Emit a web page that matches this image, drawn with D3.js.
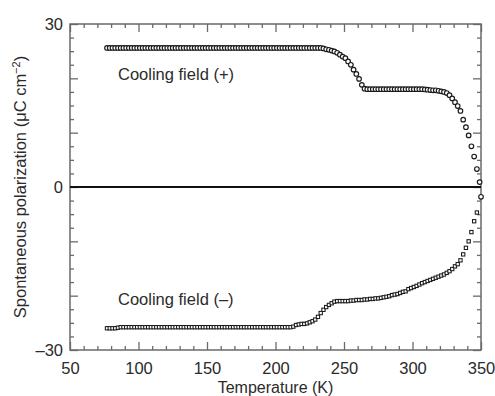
<!DOCTYPE html>
<html><head><meta charset="utf-8">
<script src="https://cdn.jsdelivr.net/npm/d3@7"></script>
<style>body{margin:0;background:#fff}svg{display:block}text{font-family:"Liberation Sans",Arial,sans-serif;fill:#2b2b2b}</style>
</head><body><svg id="c" width="495" height="396"></svg>
<script>
const tempPlus = [
77,79,81,83,85,87,89,91,93,95,
97,99,101,103,105,107,109,111,113,115,
117,119,121,123,125,127,129,131,133,135,
137,139,141,143,145,147,149,151,153,155,
157,159,161,163,165,167,169,171,173,175,
177,179,181,183,185,187,189,191,193,195,
197,199,201,203,205,207,209,211,213,215,
217,219,221,223,225,227,229,231,233,235,
237,239,241,243,245,247,249,251,253,255,
257,259,261,263,265,267,269,271,273,275,
277,279,281,283,285,287,289,291,293,295,
297,299,301,303,305,307,309,311,313,315,
317,319,321,323,325,327,329,331,333,335,
337,339,341,343,345,347,349,350];
const polPlus = [
25.6,25.6,25.6,25.6,25.6,25.6,25.6,25.6,25.6,25.6,
25.6,25.6,25.6,25.6,25.6,25.6,25.6,25.6,25.6,25.6,
25.6,25.6,25.6,25.6,25.6,25.6,25.6,25.6,25.6,25.6,
25.6,25.6,25.6,25.6,25.6,25.6,25.6,25.6,25.6,25.6,
25.6,25.6,25.6,25.6,25.6,25.6,25.6,25.6,25.6,25.6,
25.6,25.6,25.6,25.6,25.6,25.6,25.6,25.6,25.6,25.6,
25.6,25.6,25.6,25.6,25.6,25.6,25.6,25.6,25.6,25.6,
25.6,25.6,25.6,25.6,25.6,25.6,25.6,25.6,25.6,25.5,
25.35,25.25,25.1,24.95,24.7,24.35,24.0,23.7,23.1,22.5,
21.6,20.8,19.9,18.8,18.1,18.0,18.0,18.0,18.0,18.0,
18.0,18.0,18.0,18.0,18.0,18.0,18.0,18.0,18.0,18.0,
18.0,18.0,18.0,18.0,18.0,18.0,17.95,17.9,17.85,17.8,
17.8,17.7,17.6,17.5,17.3,16.9,16.3,15.6,14.9,14.0,
12.4,11.0,9.5,7.5,5.6,3.3,0.9,-1.8];

const tempMinus = [
77,79,81,83,85,87,89,91,93,95,
97,99,101,103,105,107,109,111,113,115,
117,119,121,123,125,127,129,131,133,135,
137,139,141,143,145,147,149,151,153,155,
157,159,161,163,165,167,169,171,173,175,
177,179,181,183,185,187,189,191,193,195,
197,199,201,203,205,207,209,211,213,215,
217,219,221,223,225,227,229,231,233,235,
237,239,241,243,245,247,249,251,253,255,
257,259,261,263,265,267,269,271,273,275,
277,279,281,283,285,287,289,291,293,295,
297,299,301,303,305,307,309,311,313,315,
317,319,321,323,325,327,329,331,333,335,
337,339,341,343,345,347];
const polMinus = [
-26.0,-26.0,-26.0,-26.0,-25.9,-25.8,-25.8,-25.8,-25.8,-25.8,
-25.8,-25.8,-25.8,-25.8,-25.8,-25.8,-25.8,-25.8,-25.8,-25.8,
-25.8,-25.8,-25.8,-25.8,-25.8,-25.8,-25.8,-25.8,-25.8,-25.8,
-25.8,-25.8,-25.8,-25.8,-25.8,-25.8,-25.8,-25.8,-25.8,-25.8,
-25.8,-25.8,-25.8,-25.8,-25.8,-25.8,-25.8,-25.8,-25.8,-25.8,
-25.8,-25.8,-25.8,-25.8,-25.8,-25.8,-25.8,-25.8,-25.8,-25.8,
-25.8,-25.8,-25.8,-25.8,-25.8,-25.8,-25.8,-25.8,-25.7,-25.4,
-25.3,-25.2,-25.2,-25.1,-24.9,-24.7,-24.4,-23.9,-23.2,-22.6,
-22.1,-21.7,-21.4,-21.1,-21.0,-21.0,-21.0,-21.0,-21.0,-20.9,
-20.9,-20.8,-20.8,-20.8,-20.7,-20.7,-20.6,-20.6,-20.5,-20.5,
-20.4,-20.3,-20.2,-20.1,-19.9,-19.8,-19.7,-19.5,-19.3,-19.2,
-18.8,-18.6,-18.4,-18.2,-17.95,-17.7,-17.5,-17.3,-17.1,-16.9,
-16.7,-16.5,-16.3,-16.1,-15.8,-15.5,-15.1,-14.6,-14.2,-13.5,
-12.4,-11.2,-10.0,-8.3,-6.3,-4.7];

const xMajorTicks = [50,100,150,200,250,300,350];
const xMinorTicks = [60,70,80,90,110,120,130,140,160,170,180,190,210,220,230,240,260,270,280,290,310,320,330,340];
const yLabelTicks = [-30,0,30];
const yMajorTicks = [-30,-20,-10,0,10,20,30];
const yMinorTicks = [-27.5,-25,-22.5,-17.5,-15,-12.5,-7.5,-5,-2.5,2.5,5,7.5,12.5,15,17.5,22.5,25,27.5];
const labelPlus = "Cooling field (+)";
const labelMinus = "Cooling field (\u2013)";
const xTitle = "Temperature (K)";

const svg = d3.select("#c");
const L = 70, R = 481, T = 24, B = 350;
const x = d3.scaleLinear().domain([50,350]).range([L,R]);
const y = d3.scaleLinear().domain([-30,30]).range([B,T]);
const axisColor = "#6a6a6a";
const fmt = d => d < 0 ? "\u2013" + Math.abs(d) : String(d);

function styleAxis(g){
  g.select(".domain").remove();
  g.selectAll("line").attr("stroke",axisColor).attr("stroke-width",1.3);
  g.selectAll("text").style("font-size","16.5px").attr("fill","#2b2b2b");
}
// bottom
svg.append("g").attr("transform",`translate(0,${B})`)
  .call(d3.axisBottom(x).tickValues(xMajorTicks).tickSizeInner(-8).tickSizeOuter(0).tickPadding(10).tickFormat(fmt))
  .call(styleAxis).selectAll("text").attr("dy","0.85em");
svg.append("g").attr("transform",`translate(0,${B})`)
  .call(d3.axisBottom(x).tickValues(xMinorTicks).tickSizeInner(-4).tickSizeOuter(0).tickFormat(""))
  .call(styleAxis);
// top
svg.append("g").attr("transform",`translate(0,${T})`)
  .call(d3.axisTop(x).tickValues(xMajorTicks).tickSizeInner(-8).tickSizeOuter(0).tickFormat(""))
  .call(styleAxis);
svg.append("g").attr("transform",`translate(0,${T})`)
  .call(d3.axisTop(x).tickValues(xMinorTicks).tickSizeInner(-4).tickSizeOuter(0).tickFormat(""))
  .call(styleAxis);
// left
svg.append("g").attr("transform",`translate(${L},0)`)
  .call(d3.axisLeft(y).tickValues(yMajorTicks).tickSizeInner(-8).tickSizeOuter(0).tickFormat(""))
  .call(styleAxis);
svg.append("g").attr("transform",`translate(${L},0)`)
  .call(d3.axisLeft(y).tickValues(yMinorTicks).tickSizeInner(-4).tickSizeOuter(0).tickFormat(""))
  .call(styleAxis);
svg.append("g").attr("transform",`translate(${L},0)`)
  .call(d3.axisLeft(y).tickValues(yLabelTicks).tickSize(0).tickPadding(7).tickFormat(fmt))
  .call(styleAxis);
// right
svg.append("g").attr("transform",`translate(${R},0)`)
  .call(d3.axisRight(y).tickValues(yMajorTicks).tickSizeInner(-8).tickSizeOuter(0).tickFormat(""))
  .call(styleAxis);
svg.append("g").attr("transform",`translate(${R},0)`)
  .call(d3.axisRight(y).tickValues(yMinorTicks).tickSizeInner(-4).tickSizeOuter(0).tickFormat(""))
  .call(styleAxis);
// frame
svg.append("rect").attr("x",L).attr("y",T).attr("width",R-L).attr("height",B-T)
  .attr("fill","none").attr("stroke",axisColor).attr("stroke-width",1.5);
// zero line
svg.append("line").attr("x1",x(50)).attr("x2",x(350)).attr("y1",y(0)).attr("y2",y(0))
  .attr("stroke","#111").attr("stroke-width",2.2);

// series
const plus = tempPlus.map((t,i)=>({t,v:polPlus[i]}));
const minus = tempMinus.map((t,i)=>({t,v:polMinus[i]}));
svg.append("g").selectAll("circle").data(plus).join("circle")
  .attr("cx",d=>x(d.t)).attr("cy",d=>y(d.v)).attr("r",2.3)
  .attr("fill","#fff").attr("stroke","#1a1a1a").attr("stroke-width",1.15);
const s = 3.3;
svg.append("g").selectAll("rect").data(minus).join("rect")
  .attr("x",d=>x(d.t)-s/2).attr("y",d=>y(d.v)-s/2).attr("width",s).attr("height",s)
  .attr("fill","#fff").attr("stroke","#1a1a1a").attr("stroke-width",1.05);

// annotations
svg.append("text").attr("x",118).attr("y",80).style("font-size","16.5px").text(labelPlus);
svg.append("text").attr("x",118).attr("y",305).style("font-size","16.5px").text(labelMinus);
svg.append("text").attr("x",(L+R)/2).attr("y",393).attr("text-anchor","middle").style("font-size","16px").text(xTitle);
const yt = svg.append("text").attr("transform","translate(25.5,187) rotate(-90)").attr("text-anchor","middle").style("font-size","16.5px");
yt.append("tspan").text("Spontaneous polarization (\u03bcC cm");
yt.append("tspan").attr("dy",-6).style("font-size","11px").text("\u22122");
yt.append("tspan").attr("dy",6).text(")");
</script></body></html>
